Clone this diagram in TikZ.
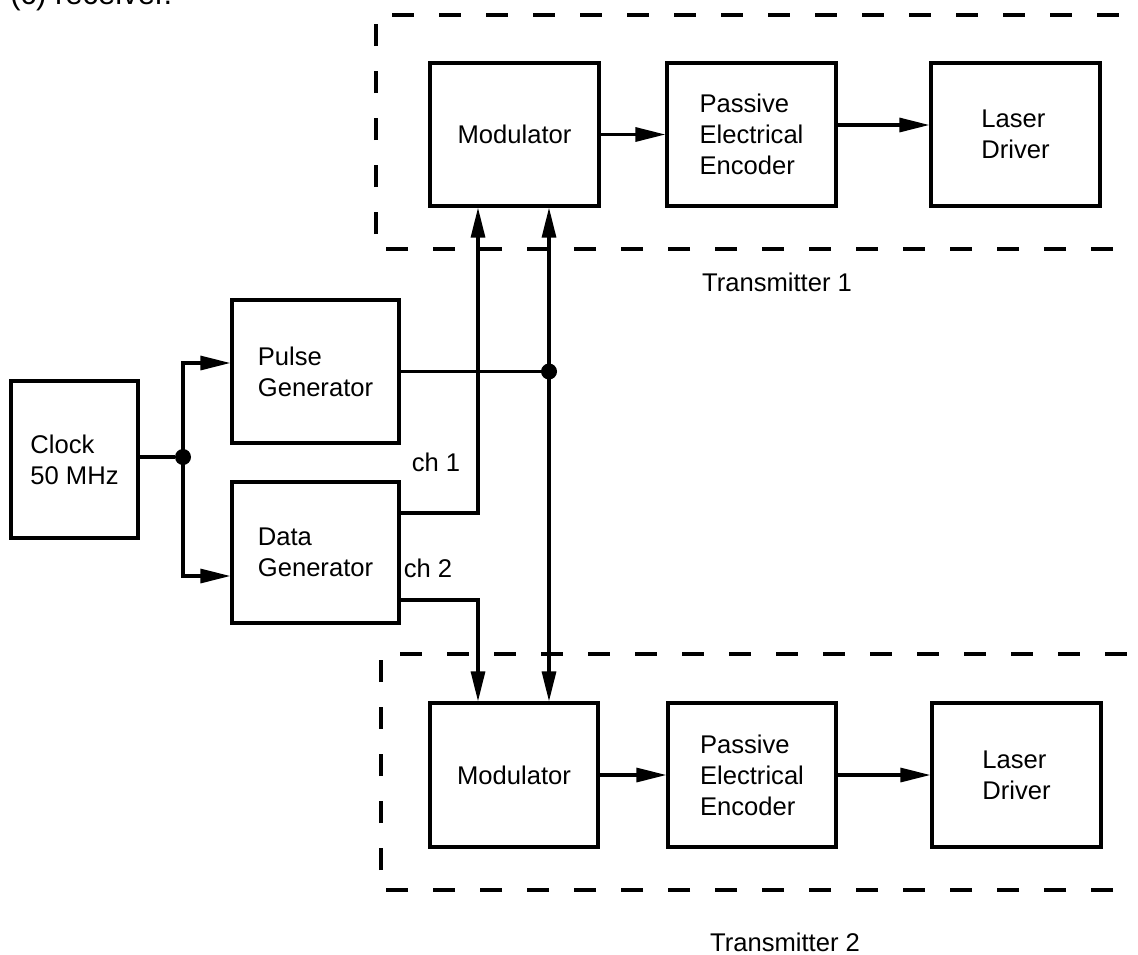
\documentclass[tikz,border=0pt]{standalone}
\usepackage{fontspec}
\setmainfont{Liberation Sans}
\usetikzlibrary{arrows.meta}
\tikzset{
  blk/.style={draw, line width=1.6pt, inner sep=0pt, align=left,
    font=\fontsize{12.8}{15.5}\selectfont},
  lbl/.style={inner sep=0pt, font=\fontsize{12.8}{15.5}\selectfont},
  wire/.style={line width=1.6pt},
  arr/.style={wire, -{Triangle[length=15pt,width=7pt]}},
  darr/.style={wire, {Triangle[length=15pt,width=7pt]}-{Triangle[length=15pt,width=7pt]}},
  dot/.style={circle, fill, inner sep=0pt, minimum size=8pt},
  dsh/.style={line width=1.7pt, dash pattern=on 11pt off 12.5pt},
}
\begin{document}
\begin{tikzpicture}[x=0.5pt,y=-0.5pt]
\clip (0,0) rectangle (1138,954);
\fill[white] (0,0) rectangle (1138,954);

% clipped text at top
\node[anchor=base west, inner sep=0pt, font=\fontsize{15.5}{18}\selectfont] (top) at (10,4) {(c) receiver.};

% transmitter frames (open to the right)
\draw[dsh] (1160,249) -- (376,249) -- (376,15) -- (1160,15);
\draw[dsh] (1160,890) -- (381,890) -- (381,654) -- (1160,654);

% blocks
\node[blk, minimum width=63.5pt, minimum height=78.5pt] (clk) at (74.5,459.5) {Clock\\50 MHz};
\node[blk, minimum width=83.5pt, minimum height=71.5pt] (pg) at (315.5,371.5) {Pulse\\Generator};
\node[blk, minimum width=83.5pt, minimum height=70.5pt] (dg) at (315.5,552.5) {Data\\Generator};

\node[blk, minimum width=84.5pt, minimum height=71.5pt] (m1) at (514.5,134.5) {Modulator};
\node[blk, minimum width=84.5pt, minimum height=71.5pt] (e1) at (751.5,134.5) {Passive\\Electrical\\Encoder};
\node[blk, minimum width=84.5pt, minimum height=71.5pt] (l1) at (1015.5,134.5) {Laser\\Driver};

\node[blk, minimum width=84pt, minimum height=72pt] (m2) at (514,775) {Modulator};
\node[blk, minimum width=84pt, minimum height=72pt] (e2) at (752,775) {Passive\\Electrical\\Encoder};
\node[blk, minimum width=84.5pt, minimum height=72pt] (l2) at (1016.5,775) {Laser\\Driver};

% labels
\node[lbl] (t1) at (777,282) {Transmitter 1};
\node[lbl] (t2) at (785,942) {Transmitter 2};
\node[lbl] (ch1) at (436,462) {ch 1};
\node[lbl] (ch2) at (428,568) {ch 2};

% junctions
\node[dot] (J) at (183,457) {};
\node[dot] (D) at (549,371.5) {};
\coordinate (v) at (478,0);

% clock distribution
\draw[wire] (clk.east |- J) -- (J);
\draw[arr] (J.center) |- ([yshift=4.25pt]pg.west);
\draw[arr] (J.center) |- ([yshift=-11.75pt]dg.west);

% pulse line
\draw[wire] (pg.east) -- (D.center);
\draw[darr] (m1.south -| D) -- (m2.north -| D);

% data channels
\draw[arr] ([yshift=19.75pt]dg.east) -| (m1.south -| v);
\draw[arr] ([yshift=-23.75pt]dg.east) -| (m2.north -| v);

% transmitter chains
\draw[arr] (m1.east) -- (e1.west);
\draw[arr] ([yshift=4.75pt]e1.east) -- ([yshift=4.75pt]l1.west);
\draw[arr] (m2.east) -- (e2.west);
\draw[arr] (e2.east) -- (l2.west);
\end{tikzpicture}
\end{document}
